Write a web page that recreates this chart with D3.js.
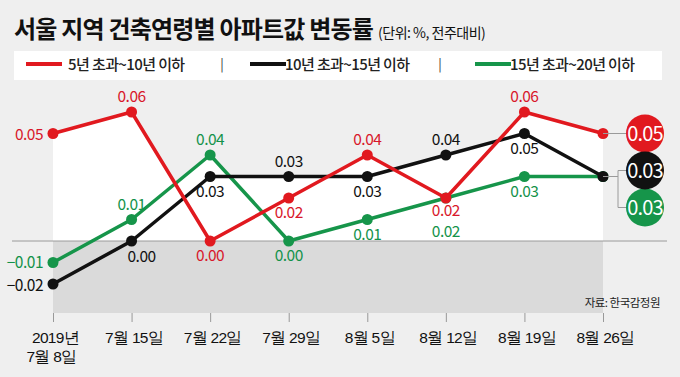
<!DOCTYPE html>
<html>
<head>
<meta charset="utf-8">
<script src="https://cdn.jsdelivr.net/npm/d3@7"></script>
<style>
  body { margin: 0; background: #efefef; }
  svg { display: block; font-family: "Noto Sans CJK KR", "Noto Sans", sans-serif; }
</style>
</head>
<body>
<div id="chart"></div>
<script>
const dates = ["2019년|7월 8일", "7월 15일", "7월 22일", "7월 29일", "8월 5일", "8월 12일", "8월 19일", "8월 26일"];
const seriesNames = ["5년 초과~10년 이하", "10년 초과~15년 이하", "15년 초과~20년 이하"];
const red = [0.05, 0.06, 0.00, 0.02, 0.04, 0.02, 0.06, 0.05];
const black = [-0.02, 0.00, 0.03, 0.03, 0.03, 0.04, 0.05, 0.03];
const green = [-0.01, 0.01, 0.04, 0.00, 0.01, 0.02, 0.03, 0.03];

// where each value label sits relative to its point
const redPos = ["left", "above", "below", "below", "above", "belowHigh", "above", null];
const blackPos = ["leftLow", "belowR", "below", "above", "below", "above", "below", null];
const greenPos = ["leftHigh", "above", "above", "below", "below", "below2", "below", null];

const colors = ["#e1191f", "#111111", "#16954a"];
const labelColors = ["#d8172a", "#111111", "#13924a"];

const W = 680, H = 377;
const svg = d3.select("#chart").append("svg").attr("width", W).attr("height", H);

svg.append("rect").attr("width", W).attr("height", H).attr("fill", "#efefef");

// title
svg.append("text").attr("x", 14).attr("y", 38)
   .attr("font-size", 24).attr("font-weight", 700).attr("letter-spacing", -0.8)
   .attr("fill", "#111").text("서울 지역 건축연령별 아파트값 변동률")
   .append("tspan").attr("dx", 5).attr("font-size", 14).attr("font-weight", 400)
   .attr("letter-spacing", -0.5).text("(단위: %, 전주대비)");

// legend
svg.append("rect").attr("x", 14).attr("y", 51).attr("width", 648).attr("height", 29).attr("fill", "#fff");
const legendX = [26, 250, 475];
seriesNames.forEach((name, i) => {
  svg.append("line").attr("x1", legendX[i]).attr("x2", legendX[i] + 36)
     .attr("y1", 64).attr("y2", 64).attr("stroke", colors[i]).attr("stroke-width", 4);
  svg.append("text").attr("x", legendX[i] + (i === 0 ? 42 : 35)).attr("y", 70)
     .attr("font-size", 15).attr("font-weight", 500).attr("letter-spacing", -0.6)
     .attr("fill", "#222").text(name);
});
[222, 440].forEach(x => {
  svg.append("text").attr("x", x).attr("y", 69).attr("font-size", 13)
     .attr("text-anchor", "middle").attr("fill", "#333").text("|");
});

const x = d3.scalePoint().domain(dates).range([53, 603]);
const y = d3.scaleLinear().domain([0, 0.06]).range([241, 112]);
const bandBottom = 313;

// gray band below zero
svg.append("rect").attr("x", x(dates[0])).attr("y", y(0))
   .attr("width", x(dates[dates.length - 1]) - x(dates[0]))
   .attr("height", bandBottom - y(0)).attr("fill", "#dadada");

// white area under the highest line, above zero
svg.append("clipPath").attr("id", "above").append("rect")
   .attr("x", 0).attr("y", 0).attr("width", W).attr("height", y(0));
const area = d3.area().x((d, i) => x(dates[i])).y0(y(0)).y1(d => y(d));
[red, black, green].forEach(vals => {
  svg.append("path").datum(vals).attr("d", area)
     .attr("fill", "#fff").attr("clip-path", "url(#above)");
});

// zero line
svg.append("line").attr("x1", 12).attr("x2", 667).attr("y1", y(0)).attr("y2", y(0))
   .attr("stroke", "#9a9a9a").attr("stroke-width", 1);

// x axis
const xAxis = svg.append("g").attr("transform", `translate(0,${bandBottom})`)
  .call(d3.axisBottom(x).tickSize(9).tickFormat(""));
xAxis.select(".domain").remove();
xAxis.selectAll(".tick line").attr("stroke", "#999");
xAxis.selectAll(".tick").each(function(d) {
  const t = d3.select(this).append("text").attr("fill", "#111").attr("font-size", 15.5)
    .attr("font-weight", 500).attr("letter-spacing", -0.7).attr("text-anchor", "middle");
  d.split("|").forEach((part, k) => {
    t.append("tspan").attr("x", k ? -2 : 2).attr("y", 30 + k * 19).text(part);
  });
});

// source
svg.append("text").attr("x", 660).attr("y", 307).attr("text-anchor", "end")
   .attr("font-size", 11.5).attr("letter-spacing", -0.5).attr("fill", "#222").text("자료: 한국감정원");

// lines, points, labels
const line = d3.line().x((d, i) => x(dates[i])).y(d => y(d));
const allSeries = [red, black, green];
const allPos = [redPos, blackPos, greenPos];
const drawOrder = [2, 1, 0];
drawOrder.forEach(s => {
  svg.append("path").datum(allSeries[s]).attr("d", line)
     .attr("fill", "none").attr("stroke", colors[s]).attr("stroke-width", 3.5)
     .attr("stroke-linejoin", "round");
  svg.append("g").selectAll("circle").data(allSeries[s]).join("circle")
     .attr("cx", (d, i) => x(dates[i])).attr("cy", d => y(d)).attr("r", 5.5)
     .attr("fill", colors[s]);
});

const off = {
  above: [0, -10, "middle"], below: [0, 20, "middle"], belowR: [10, 21, "middle"],
  belowHigh: [0, 18, "middle"], below2: [0, 39, "middle"], left: [-10, 6, "end"],
  leftHigh: [-10, 5, "end"], leftLow: [-10, 7, "end"]
};
allSeries.forEach((vals, s) => {
  vals.forEach((v, i) => {
    const p = allPos[s][i];
    if (!p) return;
    const o = off[p];
    svg.append("text").attr("x", x(dates[i]) + o[0]).attr("y", y(v) + o[1])
       .attr("text-anchor", o[2]).attr("font-size", 15.5).attr("letter-spacing", -0.5)
       .attr("fill", labelColors[s]).text(d3.format(".2f")(v));
  });
});

// end badges
const lastX = x(dates[dates.length - 1]);
const badgeX = 645, r = 19;
const tieY = y(black[black.length - 1]);
const badgeY = [y(red[red.length - 1]), tieY - 6, tieY + 31];
const conn = "#9a9a9a";
svg.append("line").attr("x1", lastX).attr("x2", badgeX - r).attr("y1", badgeY[0]).attr("y2", badgeY[0])
   .attr("stroke", conn);
svg.append("path").attr("fill", "none").attr("stroke", conn)
   .attr("d", `M${lastX},${tieY}H618M${badgeX - r},${badgeY[1]}H618V${badgeY[2]}H${badgeX - r}`);
[0, 2, 1].forEach(s => {
  const vals = allSeries[s];
  svg.append("circle").attr("cx", badgeX).attr("cy", badgeY[s]).attr("r", r).attr("fill", colors[s]);
  svg.append("text").attr("x", badgeX).attr("y", badgeY[s] + 7).attr("text-anchor", "middle")
     .attr("font-size", 20).attr("letter-spacing", -0.8).attr("fill", "#fff")
     .text(d3.format(".2f")(vals[vals.length - 1]));
});
</script>
</body>
</html>
